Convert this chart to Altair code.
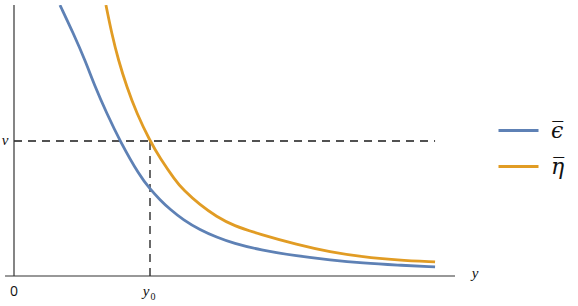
import altair as alt
import pandas as pd

# values (x in units of y0, y in units of nu)
eps_x = [0.338, 0.436, 0.522, 0.596, 0.682, 0.779, 0.926, 1.0, 1.074, 1.147, 1.245, 1.368, 1.490, 1.613, 1.809, 2.081, 2.324, 2.566, 2.816, 3.096]
eps_y = [2.007, 1.798, 1.6, 1.402, 1.205, 1.0, 0.738, 0.645, 0.563, 0.494, 0.415, 0.341, 0.287, 0.242, 0.193, 0.148, 0.119, 0.096, 0.081, 0.067]
eta_x = [0.676, 0.718, 0.767, 0.829, 0.902, 1.0, 1.074, 1.184, 1.245, 1.368, 1.490, 1.613, 1.809, 2.081, 2.324, 2.566, 2.816, 3.096]
eta_y = [2.007, 1.798, 1.6, 1.402, 1.205, 1.0, 0.872, 0.711, 0.637, 0.526, 0.439, 0.373, 0.309, 0.233, 0.178, 0.141, 0.119, 0.104]
series_names = ["ϵ\u0305", "η\u0305"]
colors = ["#5E81B5", "#E19C24"]

x_max = 3.2426
y_max = 2.0074
x0_val = 1.0
nu_val = 1.0
dash_end = 3.096

rows = []
for name, xs_, ys_ in [(series_names[0], eps_x, eps_y), (series_names[1], eta_x, eta_y)]:
    for i, (a, b) in enumerate(zip(xs_, ys_)):
        rows.append({"s": name, "x": a, "y": b, "o": i})
df = pd.DataFrame(rows)

xs = alt.Scale(domain=[0, x_max], nice=False, zero=False)
ys = alt.Scale(domain=[0, y_max], nice=False, zero=False)

lines = alt.Chart(df).mark_line(strokeWidth=2.8, interpolate="basis", clip=True).encode(
    x=alt.X("x:Q", scale=xs, axis=None),
    y=alt.Y("y:Q", scale=ys, axis=None),
    order="o:Q",
    color=alt.Color("s:N", scale=alt.Scale(domain=series_names, range=colors),
                    legend=alt.Legend(orient="none", legendX=483, legendY=104, title=None,
                                      symbolType="stroke", symbolSize=1600, symbolStrokeWidth=3,
                                      labelFontSize=22, labelFont="DejaVu Serif", labelColor="#111",
                                      labelFontStyle="italic",
                                      labelOffset=11, rowPadding=3, padding=0)),
)

axes_df = pd.DataFrame({"x": [-0.066, 0.0], "x2": [x_max, 0.0], "y": [0.0, 0.0], "y2": [0.0, y_max]})
axes = alt.Chart(axes_df).mark_rule(color="#333333", strokeWidth=1.2).encode(
    x=alt.X("x:Q", scale=xs, axis=None), x2="x2:Q",
    y=alt.Y("y:Q", scale=ys, axis=None), y2="y2:Q")

dash_df = pd.DataFrame({"x": [0.0, x0_val], "x2": [dash_end, x0_val], "y": [nu_val, 0.0], "y2": [nu_val, nu_val]})
dashes = alt.Chart(dash_df).mark_rule(color="#1a1a1a", strokeWidth=1.3, strokeDash=[8, 6]).encode(
    x=alt.X("x:Q", scale=xs, axis=None), x2="x2:Q",
    y=alt.Y("y:Q", scale=ys, axis=None), y2="y2:Q")

def txt(label, xv, yv, size, font="Liberation Serif", italic=True, dx=0, dy=0):
    d = pd.DataFrame({"x": [xv], "y": [yv], "t": [label]})
    return alt.Chart(d).mark_text(font=font, fontSize=size, fontStyle="italic" if italic else "normal",
                                  dx=dx, dy=dy, align="center", baseline="alphabetic",
                                  color="#111").encode(
        x=alt.X("x:Q", scale=xs, axis=None), y=alt.Y("y:Q", scale=ys, axis=None), text="t:N")

layers = [
    dashes, lines, axes,
    txt("0", 0.0, 0.0, 14, font="Open Sans", italic=False, dy=20),
    txt("y", x0_val, 0.0, 15, dx=-4, dy=20),
    txt("0", x0_val, 0.0, 10, italic=False, dx=3, dy=24),
    txt("y", x_max, 0.0, 15, dx=20, dy=2),
    txt("ν", 0.0, nu_val, 15, dx=-9, dy=4),
]

chart = alt.layer(*layers).properties(
    width=441, height=271,
    autosize=alt.AutoSizeParams(type="none"),
    padding={"left": 14, "top": 5, "right": 123, "bottom": 30},
).configure_view(strokeWidth=0)

chart.save("out.html", embed_options={"renderer": "svg", "actions": False})
